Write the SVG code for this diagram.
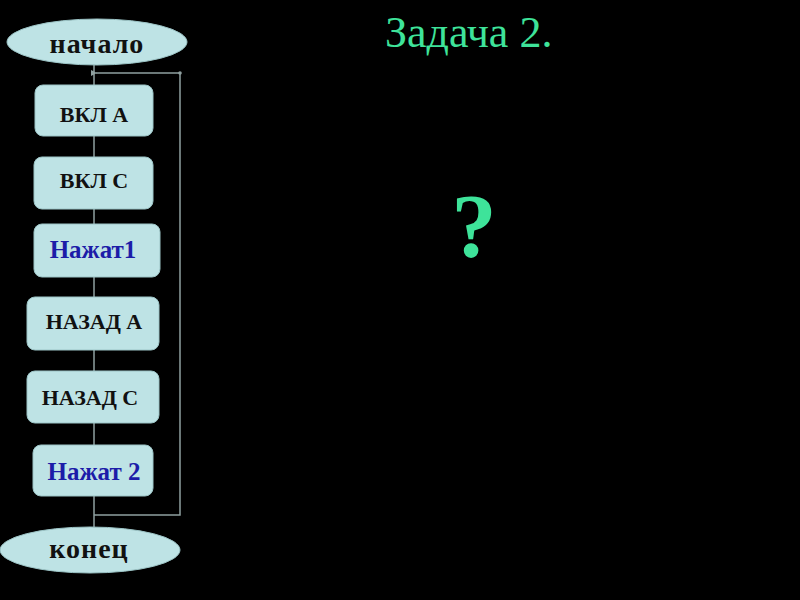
<svg xmlns="http://www.w3.org/2000/svg" width="800" height="600" viewBox="0 0 800 600">
<defs>
<style>
.box{fill:#bee3e5;stroke:#9cc4c6;stroke-width:1}
.t{font-family:"Liberation Serif","DejaVu Serif",serif;font-weight:bold;font-size:22px;text-anchor:middle}
.k{fill:#111}
.b{fill:#1c1ca8;font-size:25px}
.e{font-family:"Liberation Serif","DejaVu Serif",serif;font-weight:bold;font-size:28px;text-anchor:middle;fill:#111;letter-spacing:1px}
.ln{stroke:#8fa0a0;stroke-width:1.5;fill:none}
.g{fill:#3ee39a;font-family:"Liberation Serif","DejaVu Serif",serif}
</style>
<marker id="ah" markerWidth="6" markerHeight="6" refX="1" refY="3" orient="auto" markerUnits="userSpaceOnUse">
<path d="M6,0 L0,3 L6,6 z" fill="#8fa0a0"/>
</marker>
</defs>
<rect width="800" height="600" fill="#000"/>
<g id="connectors">
<line class="ln" x1="94" y1="65" x2="94" y2="527"/>
<polyline class="ln" points="94,515 180,515 180,73 96,73" marker-end="url(#ah)"/>
<circle cx="180" cy="73" r="1.8" fill="#8fa0a0"/>
</g>
<g id="start"><ellipse cx="97" cy="42" rx="90" ry="23" class="box"/><text class="e" x="97" y="53">начало</text></g>
<g id="n1"><rect class="box" x="35" y="85" width="118" height="51" rx="8"/><text class="t k" x="94" y="122">ВКЛ А</text></g>
<g id="n2"><rect class="box" x="34" y="157" width="119" height="52" rx="8"/><text class="t k" x="94" y="188">ВКЛ С</text></g>
<g id="n3"><rect class="box" x="34" y="224" width="126" height="53" rx="8"/><text class="t b" x="93" y="258">Нажат1</text></g>
<g id="n4"><rect class="box" x="27" y="297" width="132" height="53" rx="8"/><text class="t k" x="94" y="329">НАЗАД А</text></g>
<g id="n5"><rect class="box" x="27" y="371" width="132" height="52" rx="8"/><text class="t k" x="90" y="405">НАЗАД С</text></g>
<g id="n6"><rect class="box" x="33" y="445" width="120" height="51" rx="8"/><text class="t b" x="94" y="480">Нажат 2</text></g>
<g id="end"><ellipse cx="90" cy="550" rx="90" ry="23" class="box"/><text class="e" x="89" y="558">конец</text></g>
<text class="g" x="385" y="47" font-size="44">Задача 2.</text>
<text class="g" x="474" y="257" font-size="90" font-weight="bold" text-anchor="middle">?</text>
</svg>
